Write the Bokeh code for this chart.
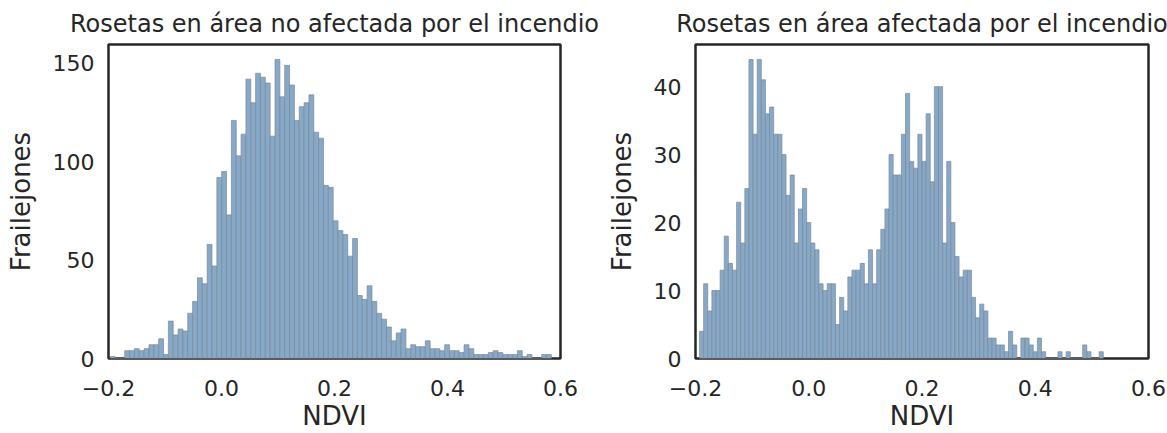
import numpy as np
from bokeh.plotting import figure
from bokeh.models import Range1d, FixedTicker, CustomJSTickFormatter
from bokeh.layouts import row
from bokeh.embed import file_html
from bokeh.resources import INLINE

# NDVI histogram counts per bin
unaffected_title = "Rosetas en área no afectada por el incendio"
unaffected_bin_start = -0.197
unaffected_bin_width = 0.00858
unaffected_counts = [
    1, 0, 0, 4, 4, 5, 4, 5, 7, 7,
    10, 2, 19, 12, 15, 14, 23, 29, 41, 38,
    58, 47, 92, 95, 73, 121, 103, 114, 142, 130,
    145, 143, 140, 113, 152, 133, 149, 139, 121, 128,
    130, 134, 115, 112, 88, 87, 70, 65, 63, 52,
    61, 32, 30, 37, 29, 23, 20, 16, 9, 13,
    15, 5, 7, 6, 6, 9, 5, 5, 4, 7,
    4, 4, 3, 7, 5, 2, 2, 2, 3, 4,
    3, 2, 2, 2, 4, 1, 2, 0, 0, 2,
    2,
]

affected_title = "Rosetas en área afectada por el incendio"
affected_bin_start = -0.1929
affected_bin_width = 0.007276
affected_counts = [
    4, 11, 7, 10, 10, 13, 18, 14, 13, 23,
    17, 25, 44, 33, 44, 41, 36, 37, 33, 33,
    30, 24, 27, 17, 22, 25, 20, 17, 16, 11,
    10, 11, 11, 5, 9, 7, 12, 13, 13, 14,
    11, 16, 11, 16, 19, 22, 30, 27, 27, 33,
    39, 29, 28, 33, 29, 36, 26, 40, 40, 17,
    29, 20, 15, 12, 13, 13, 9, 6, 8, 7,
    3, 3, 2, 2, 1, 4, 2, 0, 3, 3,
    2, 1, 3, 1, 0, 0, 0, 1, 0, 1,
    0, 0, 0, 2, 1, 0, 0, 1,
]

x_ticks = [-0.2, 0.0, 0.2, 0.4, 0.6]
unaffected_y_ticks = [0, 50, 100, 150]
affected_y_ticks = [0, 10, 20, 30, 40]

x_label = "NDVI"
y_label = "Frailejones"

FONT = "DejaVu Sans"
TEXT = "#262626"


def histogram(title, counts, start, width, y_ticks, fig_width, border_left, border_right):
    counts = np.asarray(counts, dtype=float)
    edges = start + width * np.arange(len(counts) + 1)
    p = figure(
        width=fig_width, height=433,
        output_backend="svg", toolbar_location=None,
        x_range=Range1d(-0.2, 0.6),
        y_range=Range1d(0, counts.max() * 1.05),
        min_border_left=border_left, min_border_right=border_right,
        min_border_top=43, min_border_bottom=72,
    )
    p.quad(left=edges[:-1], right=edges[1:], bottom=0, top=counts,
           fill_color="#86A9C9", fill_alpha=1.0,
           line_color="#7c8894", line_width=0.7)

    p.title.text = title
    p.title.align = "center"
    p.title.text_font = FONT
    p.title.text_font_size = "24px"
    p.title.text_font_style = "normal"
    p.title.text_color = TEXT
    p.title.standoff = 14

    p.grid.visible = False
    p.background_fill_color = "white"
    p.border_fill_color = "white"
    p.outline_line_color = "#262626"
    p.outline_line_width = 2.5
    p.outline_line_alpha = 1.0

    p.xaxis.ticker = FixedTicker(ticks=x_ticks)
    p.xaxis.formatter = CustomJSTickFormatter(
        code='return (tick < -1e-9 ? "\\u2212" : "") + Math.abs(tick).toFixed(1);')
    p.yaxis.ticker = FixedTicker(ticks=y_ticks)
    p.xaxis.axis_label = x_label
    p.yaxis.axis_label = y_label

    for ax in (p.xaxis[0], p.yaxis[0]):
        ax.axis_line_color = None
        ax.major_tick_line_color = None
        ax.minor_tick_line_color = None
        ax.major_label_text_font = FONT
        ax.major_label_text_font_size = "22px"
        ax.major_label_text_color = TEXT
        ax.axis_label_text_font = FONT
        ax.axis_label_text_font_size = "26px"
        ax.axis_label_text_font_style = "normal"
        ax.axis_label_text_color = TEXT
    p.xaxis.major_label_standoff = 15
    p.xaxis.axis_label_standoff = 2
    p.yaxis.major_label_standoff = 8
    p.yaxis.axis_label_standoff = 14
    return p


p1 = histogram(unaffected_title, unaffected_counts, unaffected_bin_start,
               unaffected_bin_width, unaffected_y_ticks, 600, 108, 40)
p2 = histogram(affected_title, affected_counts, affected_bin_start,
               affected_bin_width, affected_y_ticks, 567, 95, 19)

layout = row(p1, p2)
open("out.html", "w").write(file_html(layout, INLINE))
